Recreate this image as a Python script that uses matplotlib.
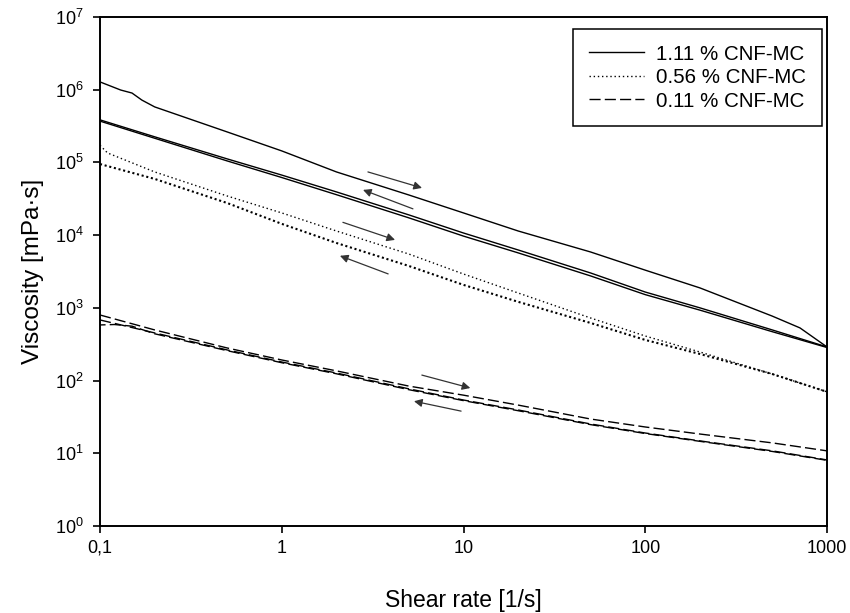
import numpy as np
import matplotlib
matplotlib.use("Agg")
import matplotlib.pyplot as plt
import matplotlib.ticker as ticker

plt.rcParams['font.family'] = ['Liberation Sans', 'DejaVu Sans']
plt.rcParams['mathtext.fontset'] = 'custom'
plt.rcParams['mathtext.rm'] = 'Liberation Sans'

# shear rate grids [1/s]
shear = [0.1, 0.2, 0.5, 1, 2, 5, 10, 20, 50, 100, 200, 500, 1000]
shear_111 = [0.1, 0.13, 0.15, 0.17, 0.2, 0.5, 1, 2, 5, 10, 20, 50, 100, 200,
             500, 710, 1000]
shear_056 = [0.1, 0.11, 0.2, 0.5, 1, 2, 5, 10, 20, 50, 100, 200, 500, 1000]
shear_flat = [0.1, 0.12, 0.15, 0.2, 0.5, 1, 2, 5, 10, 20, 50, 100, 200, 500, 1000]

# 1.11 % CNF-MC viscosity [mPa s]
cnf111_up = [1.28e6, 9.9e5, 9.0e5, 7.2e5, 5.8e5, 2.63e5, 1.44e5, 7.4e4, 3.57e4,
             2.02e4, 1.14e4, 5.87e3, 3.3e3, 1.88e3, 770, 530, 290]
cnf111_down = [3.85e5, 2.25e5, 1.12e5, 6.7e4, 3.93e4, 1.90e4, 1.07e4, 6.25e3,
               3.02e3, 1.65e3, 1.0e3, 497, 290]
cnf111_down2 = [3.7e5, 2.15e5, 1.05e5, 6.2e4, 3.6e4, 1.73e4, 9.7e3, 5.7e3,
                2.75e3, 1.52e3, 930, 470, 285]

# 0.56 % CNF-MC
cnf056_up = [1.72e5, 1.35e5, 7.4e4, 3.46e4, 2.02e4, 1.14e4, 5.5e3, 2.92e3,
             1.60e3, 726, 410, 247, 123, 70]
cnf056_down = [9.5e4, 5.93e4, 2.77e4, 1.43e4, 7.8e3, 3.77e3, 2.07e3, 1.21e3,
               620, 362, 232, 123, 70]

# 0.11 % CNF-MC
cnf011_up = [798, 497, 281, 192, 136, 84, 63, 46, 29.6, 23, 18.4, 13.9, 10.8]
cnf011_down = [682, 452, 264, 180, 127, 77, 54, 39.4, 25.3, 19, 14.8, 10.8, 8.1]
cnf011_down2 = [582, 590, 560, 440, 258, 176, 124, 75, 53, 38.5, 24.8, 18.7,
                14.6, 10.6, 8.0]

# hysteresis arrows ((x0, y0), (x1, y1))
arrows = [((2.98, 7.4e4), (5.91, 4.46e4)),
          ((5.27, 2.3e4), (2.80, 4.19e4)),
          ((2.17, 1.5e4), (4.2, 8.6e3)),
          ((3.85, 2.93e3), (2.09, 5.2e3)),
          ((5.9, 119), (10.9, 79)),
          ((9.7, 38), (5.34, 52))]

xtick_vals = [0.1, 1, 10, 100, 1000]
xtick_labels = ['0,1', '1', '10', '100', '1000']
ytick_vals = [1e0, 1e1, 1e2, 1e3, 1e4, 1e5, 1e6, 1e7]


def main():
    fig = plt.figure(figsize=(8.5, 6.13), dpi=100)
    ax = fig.add_axes([100/850, 1 - 526/613, 727/850, 509/613])

    lw = 1.0
    ax.plot(shear_111, cnf111_up, color='k', lw=lw, label='1.11 % CNF-MC')
    ax.plot(shear, cnf111_down, color='k', lw=lw)
    ax.plot(shear, cnf111_down2, color='k', lw=lw)

    ax.plot(shear_056, cnf056_up, color='k', lw=lw, linestyle=(0, (1, 2)),
            label='0.56 % CNF-MC')
    ax.plot(shear, cnf056_down, color='k', lw=1.5, linestyle=(0, (1, 1.3)))

    ax.plot(shear, cnf011_up, color='k', lw=lw, linestyle=(0, (8, 3)),
            label='0.11 % CNF-MC')
    ax.plot(shear, cnf011_down, color='k', lw=lw, linestyle=(0, (8, 3)))
    ax.plot(shear_flat, cnf011_down2, color='k', lw=lw, linestyle=(4, (8, 3)))

    for (x0, y0), (x1, y1) in arrows:
        ax.annotate('', xy=(x1, y1), xytext=(x0, y0),
                    arrowprops=dict(arrowstyle='-|>', color='0.2', lw=0.9,
                                    mutation_scale=12, shrinkA=0, shrinkB=0))

    ax.set_xscale('log')
    ax.set_yscale('log')
    ax.set_xlim(0.1, 1000)
    ax.set_ylim(1, 1e7)

    ax.set_xticks(xtick_vals)
    ax.set_xticklabels(xtick_labels)
    ax.xaxis.set_minor_locator(ticker.NullLocator())
    ax.set_yticks(ytick_vals)
    ax.yaxis.set_major_formatter(ticker.FuncFormatter(
        lambda v, pos: r'$\mathregular{10^{%d}}$' % int(round(np.log10(v)))))
    ax.yaxis.set_minor_locator(ticker.NullLocator())

    ax.tick_params(axis='both', direction='out', length=5, width=1.2,
                   labelsize=13, pad=5)
    ax.tick_params(axis='y', pad=6.5)
    for s in ax.spines.values():
        s.set_linewidth(1.4)

    ax.set_xlabel('Shear rate [1/s]', fontsize=16.5, labelpad=23)
    ax.set_ylabel('Viscosity [mPa·s]', fontsize=17.5, labelpad=8)

    leg = ax.legend(loc='upper right', bbox_to_anchor=(0.993, 0.976),
                    borderaxespad=0, fancybox=False, framealpha=1,
                    edgecolor='k', fontsize=14.8, handlelength=2.66,
                    handletextpad=0.63, labelspacing=0.22, borderpad=0.75)
    leg.get_frame().set_linewidth(1.1)

    fig.savefig('out.png', dpi=100)
    plt.close(fig)


if __name__ == "__main__":
    main()
